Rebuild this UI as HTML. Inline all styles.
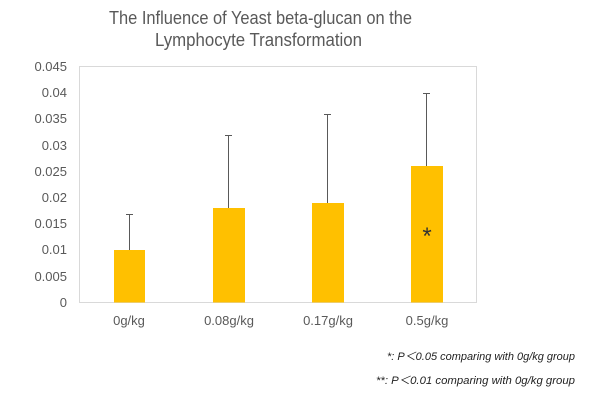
<!DOCTYPE html>
<html><head><style>body{margin:0;background:#fff}svg{display:block}text{font-family:"Liberation Sans",sans-serif}</style></head>
<body>
<svg width="600" height="400" xmlns="http://www.w3.org/2000/svg">
<rect width="600" height="400" fill="#fff"/>
<text x="109" y="24" font-size="18" fill="#595959" textLength="303" lengthAdjust="spacingAndGlyphs">The Influence of Yeast beta-glucan on the</text>
<text x="155" y="46" font-size="18" fill="#595959" textLength="207" lengthAdjust="spacingAndGlyphs">Lymphocyte Transformation</text>
<rect x="79.5" y="66.5" width="397" height="236" fill="none" stroke="#d9d9d9"/>
<g font-size="13" fill="#595959" text-anchor="end">
<text x="67" y="71">0.045</text><text x="67" y="97">0.04</text><text x="67" y="123">0.035</text>
<text x="67" y="150">0.03</text><text x="67" y="176">0.025</text><text x="67" y="202">0.02</text>
<text x="67" y="228">0.015</text><text x="67" y="254">0.01</text><text x="67" y="281">0.005</text>
<text x="67" y="307">0</text>
</g>
<g fill="#ffc000">
<rect x="114" y="250" width="31" height="52.5"/>
<rect x="213" y="208" width="32" height="94.5"/>
<rect x="312" y="203" width="32" height="99.5"/>
<rect x="411" y="166" width="32" height="136.5"/>
</g>
<g stroke="#595959" stroke-width="1">
<path d="M129.5 250V214M126 214.5H133"/>
<path d="M228.5 208V135M225 135.5H232"/>
<path d="M327.5 203V114M324 114.5H331"/>
<path d="M426.5 166V93M423 93.5H430"/>
</g>
<text x="427" y="244" font-size="24" fill="#333" text-anchor="middle">*</text>
<g font-size="13" fill="#595959" text-anchor="middle">
<text x="129" y="325">0g/kg</text><text x="229" y="325">0.08g/kg</text>
<text x="328" y="325">0.17g/kg</text><text x="427" y="325">0.5g/kg</text>
</g>
<g font-size="11" font-style="italic" fill="#222">
<text x="387" y="360" textLength="188" lengthAdjust="spacingAndGlyphs">*: P＜0.05 comparing with 0g/kg group</text>
<text x="376" y="384" textLength="199" lengthAdjust="spacingAndGlyphs">**: P＜0.01 comparing with 0g/kg group</text>
</g>
</svg>
</body></html>
